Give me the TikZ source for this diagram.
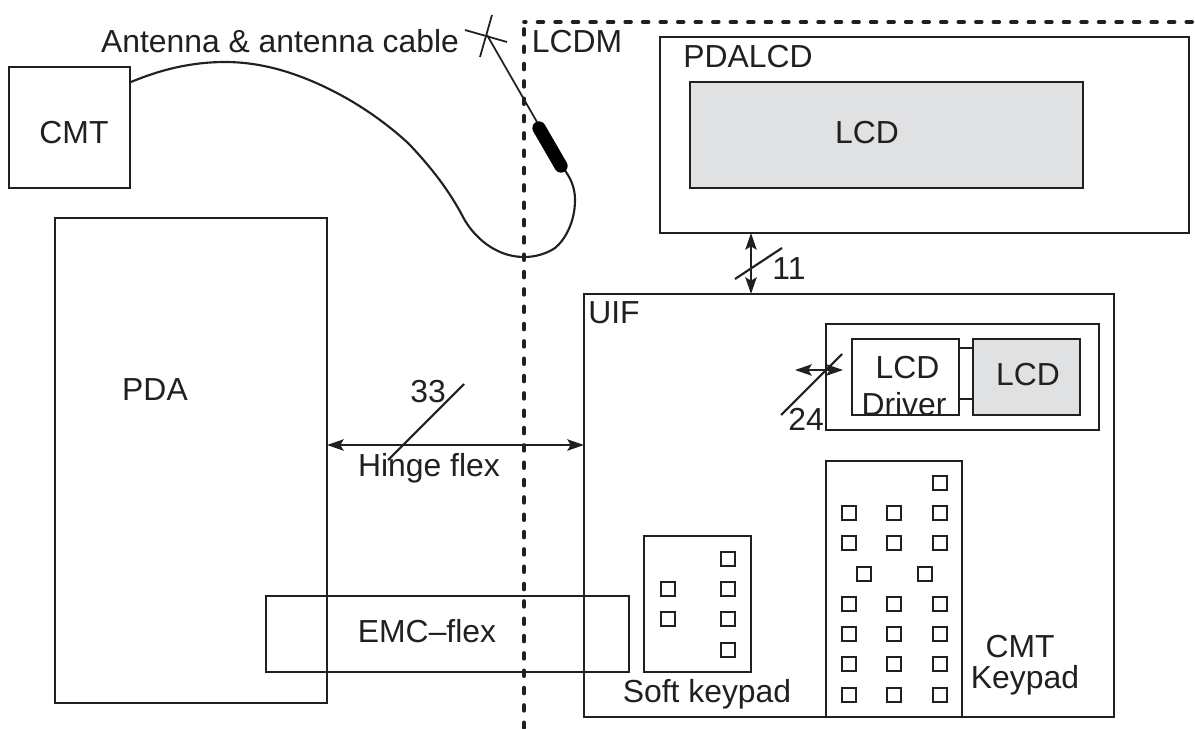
\documentclass[tikz,border=0pt]{standalone}
\usepackage{fontspec}
\setmainfont{Liberation Sans}
\usetikzlibrary{arrows.meta}
\newcommand{\bx}[6][]{%
  \pgfmathsetlengthmacro{\bxw}{(#5-#3)*0.75pt}%
  \pgfmathsetlengthmacro{\bxh}{(#6-#4)*0.75pt}%
  \node[boxshape,#1,minimum width=\bxw,minimum height=\bxh] (#2) at ({(#3+#5)/2},{(#4+#6)/2}) {};}
\tikzset{
  boxshape/.style={draw=ink,line width=1.5pt,rectangle,inner sep=0pt,outer sep=0pt},
  gray fillbox/.style={fill=lcdgray},
  keybox/.style={draw=ink,line width=1.5pt,rectangle,inner sep=0pt,outer sep=0pt,minimum size=11.2pt},
  label/.style={anchor=base,inner sep=0pt,outer sep=0pt,text=ink,font=\fontsize{23.9pt}{25pt}\selectfont},
  wire/.style={draw=ink,line width=1.6pt},
  thinwire/.style={draw=ink,line width=1.3pt},
  dbl/.style={draw=ink,line width=1.6pt,{Stealth[length=12.5pt,width=8.5pt,inset=2.5pt]}-{Stealth[length=12.5pt,width=8.5pt,inset=2.5pt]}},
  module/.style={draw=ink,line width=2.7pt,line cap=round},
}
\definecolor{ink}{HTML}{231F20}
\definecolor{lcdgray}{HTML}{E0E1E3}
\begin{document}
\begin{tikzpicture}[x=0.75pt,y=-0.75pt]
\useasboundingbox (0,0) rectangle (1195,728);
\clip (0,0) rectangle (1195,728);
% module outline
\coordinate (mA) at (1195,22);
\coordinate (mB) at (524,22);
\coordinate (mB2) at (524,29);
\coordinate (mC) at (524,728);
\draw[module,dash pattern=on 4.4pt off 8.75pt,dash phase=3pt] (mB) -- (mA);
\draw[module,dash pattern=on 4.4pt off 8.6pt] (mB2) -- (mC);
% boxes
\bx{cmt}{9}{67}{130}{188}
\bx{pda}{55}{218}{327}{703}
\bx{emc}{266}{596}{629}{672}
\bx{pdalcd}{660}{37}{1189}{233}
\bx[gray fillbox]{lcdbig}{690}{82}{1083}{188}
\bx{uif}{584}{294}{1114}{717}
\bx{inner}{826}{324}{1099}{430}
\bx{driver}{852}{339}{959}{415}
\bx[gray fillbox]{lcdsmall}{973}{339}{1080}{415}
\bx{soft}{644}{536}{751}{672}
\bx{cmtpad}{826}{461}{962}{717}
% driver to LCD links
\coordinate (dl1) at (959,348); \coordinate (sl1) at (973,348);
\coordinate (dl2) at (959,399); \coordinate (sl2) at (973,399);
\draw[wire] (dl1) -- (sl1);
\draw[wire] (dl2) -- (sl2);
% keys, soft keypad
\foreach \n/\x/\y in {a/728/559,b/728/589,c/728/619,d/728/650,e/668/589,f/668/619}
  \node[keybox] (s\n) at (\x,\y) {};
% keys, CMT keypad
\foreach \n/\x/\y in {a/940/483,
  b/849/513,c/894/513,d/940/513,
  e/849/543,f/894/543,g/940/543,
  h/864/574,i/925/574,
  j/849/604,k/894/604,l/940/604,
  m/849/634,n/894/634,o/940/634,
  p/849/664,q/894/664,r/940/664,
  s/849/695,t/894/695,u/940/695}
  \node[keybox] (c\n) at (\x,\y) {};
% bus arrows
\draw[dbl] (pda.east |- 0,445) -- (uif.west |- 0,445);
\draw[dbl] (pdalcd.south -| 751,0) -- (uif.north -| 751,0);
\coordinate (a24l) at (795,370);
\coordinate (a24r) at (843,370);
\draw[dbl] (a24l) -- (a24r);
% bus slashes
\coordinate (s33a) at (464,384); \coordinate (s33b) at (388,460);
\coordinate (s11a) at (735,279); \coordinate (s11b) at (782,248);
\coordinate (s24a) at (781,415); \coordinate (s24b) at (842,354);
\draw[wire] (s33a) -- (s33b);
\draw[wire] (s11a) -- (s11b);
\draw[wire] (s24a) -- (s24b);
% antenna
\coordinate (cab0) at (131,82);
\coordinate (tip) at (487,35);
\coordinate (whipEnd) at (537,122);
\coordinate (barA) at (539,128);
\coordinate (barB) at (561,166);
\coordinate (crossA) at (492,15);
\coordinate (crossB) at (480,57);
\coordinate (crossC) at (465,30);
\coordinate (crossD) at (507,42);
\draw[wire] (cab0) .. controls (162,69) and (193,62) .. (225,62)
  .. controls (262,62) and (296,73) .. (327,88)
  .. controls (358,103) and (385,122) .. (408,143)
  .. controls (432,168) and (450,192) .. (463,217)
  .. controls (473,236) and (495,257) .. (524,257)
  .. controls (535,257) and (546,254) .. (555,248)
  .. controls (565,240) and (575,222) .. (575,200)
  .. controls (575,188) and (571,178) .. (563,168);
\draw[thinwire] (tip) -- (whipEnd);
\draw[draw=black,line width=10pt,line cap=round] (barA) -- (barB);
\draw[thinwire] (crossA) -- (crossB);
\draw[thinwire] (crossC) -- (crossD);
% labels
\node[label] (tAnt) at (280,52) {Antenna \& antenna cable};
\node[label] (tLcdm) at (577,52) {LCDM};
\node[label] (tCmt) at (74,143) {CMT};
\node[label] (tPda) at (155,400) {PDA};
\node[label] (tPdalcd) at (748,67) {PDALCD};
\node[label] (tLcd) at (867,143) {LCD};
\node[label] (t11) at (789,279) {11};
\node[label] (tUif) at (614,323) {UIF};
\node[label] (t33) at (428,402) {33};
\node[label] (tHinge) at (429,476) {Hinge flex};
\node[label] (t24) at (806,430) {24};
\node[label] (tLcd2) at (907.5,378) {LCD};
\node[label] (tDriver) at (904,415) {Driver};
\node[label] (tLcd3) at (1028,385) {LCD};
\node[label] (tEmc) at (427,642) {EMC–flex};
\node[label] (tSoft) at (707,702.5) {Soft keypad};
\node[label] (tCmt2) at (1020,657) {CMT};
\node[label] (tKeypad) at (1025,688) {Keypad};
\end{tikzpicture}
\end{document}
